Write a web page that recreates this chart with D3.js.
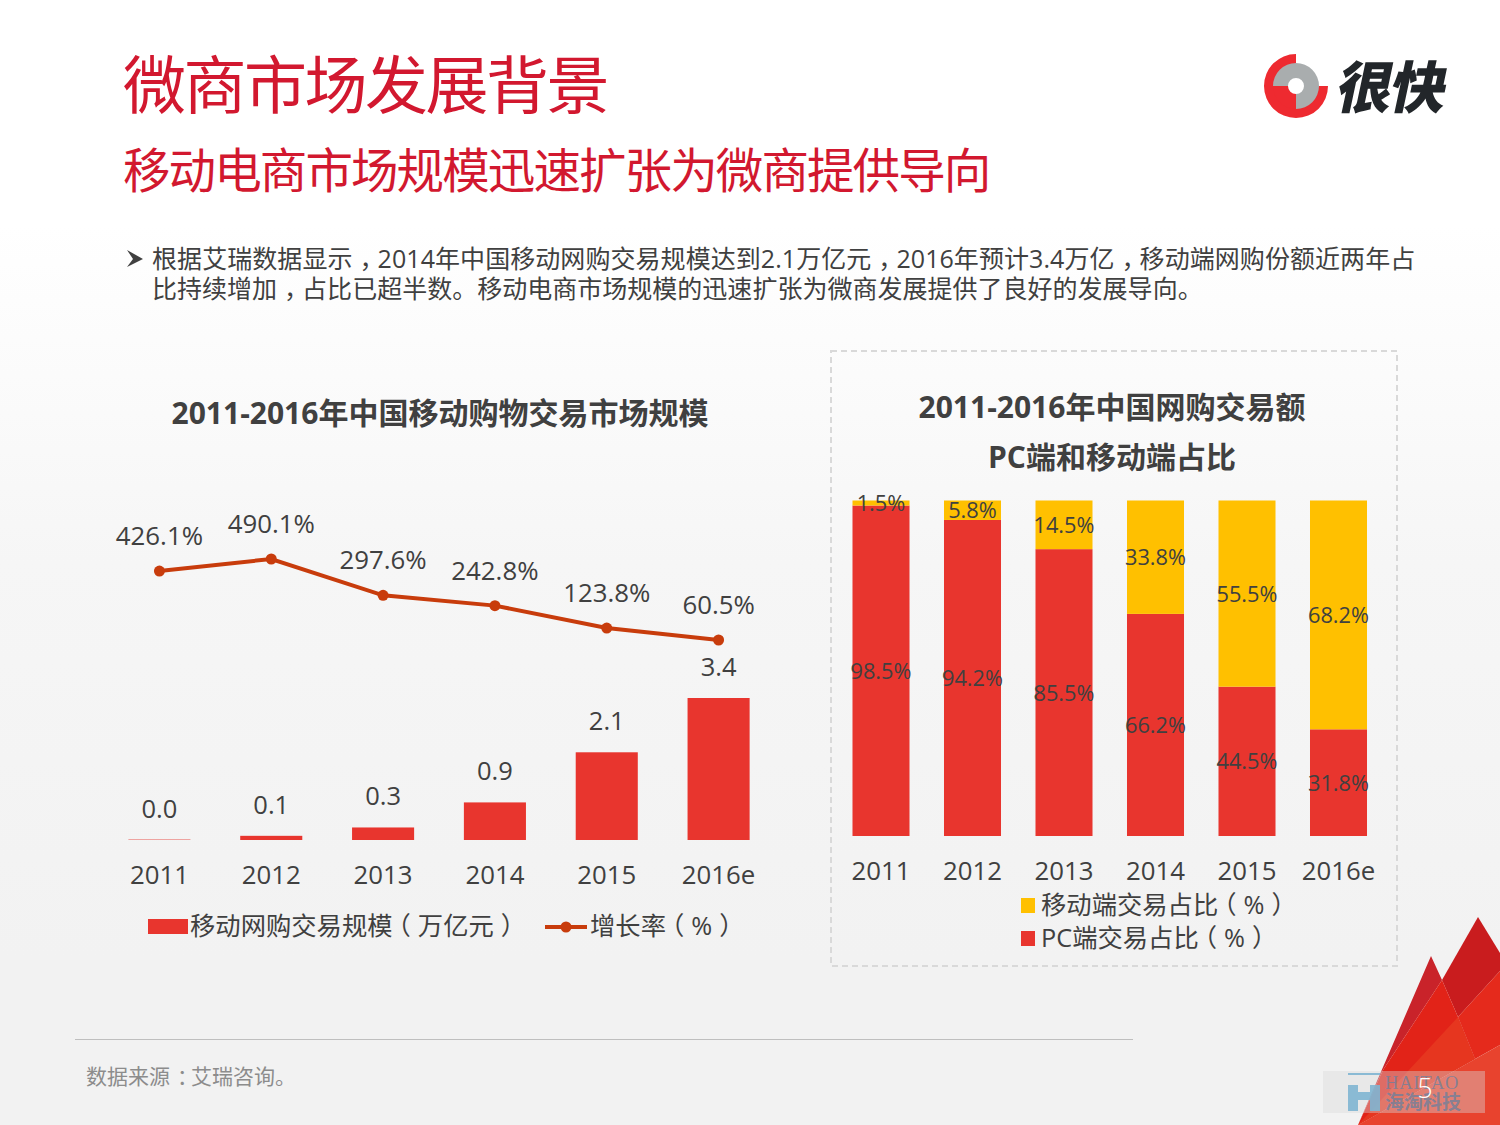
<!DOCTYPE html>
<html>
<head>
<meta charset="utf-8">
<script src="https://d3js.org/d3.v7.min.js"></script>
<style>
  html, body { margin: 0; padding: 0; background: #fff; }
  svg { display: block; }
  text { font-family: "Open Sans", "Noto Sans CJK SC", sans-serif; fill: #404040; }
  .cjk { font-family: "Noto Sans CJK SC", sans-serif; }
</style>
</head>
<body>
<svg id="chart" width="1500" height="1125"></svg>
<script>
// chart values
var years = ['2011', '2012', '2013', '2014', '2015', '2016e'];
var marketSize = [0.01, 0.1, 0.3, 0.9, 2.1, 3.4];
var growthRate = [426.1, 490.1, 297.6, 242.8, 123.8, 60.5];
var pcShare = [98.5, 94.2, 85.5, 66.2, 44.5, 31.8];
var mobileShare = [1.5, 5.8, 14.5, 33.8, 55.5, 68.2];

var titleText = '微商市场发展背景';
var subtitleText = '移动电商市场规模迅速扩张为微商提供导向';
var bodyLines = [
    '根据艾瑞数据显示，2014年中国移动网购交易规模达到2.1万亿元，2016年预计3.4万亿，移动端网购份额近两年占',
    '比持续增加，占比已超半数。移动电商市场规模的迅速扩张为微商发展提供了良好的发展导向。'
];
var sourceText = '数据来源：艾瑞咨询。';

var red = '#e8352e', orange = '#ffc000', lineRed = '#c83c0c';

var svg = d3.select('#chart');
var defs = svg.append('defs');

// the font sets these marks at the side of their cell, the reference has them centred
var punctShift = {'，': 7, '：': 7, '（': -7, '）': 7};

function addText(x, y, str, size) {
    var back = 0;
    var dx = Array.from(str).map(function(ch) {
        var shift = punctShift[ch] || 0;
        var d = shift - back;
        back = shift;
        return d;
    });
    return svg.append('text').attr('x', x).attr('y', y)
        .attr('dx', dx.join(' '))
        .style('font-size', size + 'px')
        .text(str);
}

// page background
var bg = defs.append('linearGradient').attr('id', 'bg')
    .attr('x1', 0).attr('y1', 0).attr('x2', 0).attr('y2', 1);
bg.append('stop').attr('offset', '0.2').attr('stop-color', '#ffffff');
bg.append('stop').attr('offset', '0.5').attr('stop-color', '#f6f6f6');
bg.append('stop').attr('offset', '0.85').attr('stop-color', '#f2f2f2');
svg.append('rect').attr('width', 1500).attr('height', 1125).attr('fill', 'url(#bg)');

// ---------- header ----------
svg.append('text').attr('class', 'cjk').attr('x', 123).attr('y', 108)
    .style('font-size', '63px').style('letter-spacing', '-2.5px').style('fill', '#d2182f')
    .text(titleText);
svg.append('text').attr('class', 'cjk').attr('x', 123).attr('y', 188)
    .style('font-size', '47.5px').style('letter-spacing', '-1.9px').style('fill', '#d2182f')
    .text(subtitleText);

svg.append('path')
    .attr('d', 'M127,250 L143,259 L127,267 L133,259 Z')
    .attr('fill', '#404040');
bodyLines.forEach(function(line, i) {
    addText(152, 267.5 + i * 30, line, 25).style('letter-spacing', i === 0 ? '0.06px' : null);
});

// logo
var logo = svg.append('g').attr('transform', 'translate(1296,86)');
var arc = d3.arc();
logo.append('path').attr('fill', '#ee2a30')
    .attr('d', arc({innerRadius: 22, outerRadius: 32, startAngle: Math.PI / 2, endAngle: 2 * Math.PI}));
logo.append('path').attr('fill', '#ee2a30')
    .attr('d', arc({innerRadius: 8, outerRadius: 23, startAngle: Math.PI, endAngle: 1.5 * Math.PI}));
logo.append('path').attr('fill', '#a9adae')
    .attr('d', arc({innerRadius: 8, outerRadius: 23, startAngle: 0, endAngle: Math.PI}));
logo.append('path').attr('fill', '#a9adae')
    .attr('d', arc({innerRadius: 8, outerRadius: 23, startAngle: 1.5 * Math.PI, endAngle: 2 * Math.PI}));
svg.append('text').attr('class', 'cjk')
    .attr('transform', 'translate(1334,108) skewX(-12)')
    .style('font-size', '56px').style('font-weight', 900).style('letter-spacing', '-2.5px').style('fill', '#22262a')
    .text('很快');

// ---------- left chart ----------
svg.append('text').attr('x', 440).attr('y', 424).attr('text-anchor', 'middle')
    .style('font-size', '30px').style('font-weight', 700)
    .text('2011-2016年中国移动购物交易市场规模');

var x1 = d3.scaleBand().domain(years).range([103.5, 774.5]).paddingInner(0.445).paddingOuter(0.2225);
var ySize = d3.scaleLinear().domain([0, 3.4]).range([840, 698]);
var yRate = d3.scaleLinear().domain([60.5, 490.1]).range([640, 559]);
var xMid = function(i) { return x1(years[i]) + x1.bandwidth() / 2; };

svg.selectAll('.size-bar').data(marketSize).enter().append('rect')
    .attr('class', 'size-bar')
    .attr('x', function(d, i) { return x1(years[i]); })
    .attr('y', function(d) { return ySize(d); })
    .attr('width', x1.bandwidth())
    .attr('height', function(d) { return ySize(0) - ySize(d); })
    .attr('fill', red);

svg.selectAll('.size-label').data(marketSize).enter().append('text')
    .attr('class', 'size-label')
    .attr('x', function(d, i) { return xMid(i); })
    .attr('y', function(d) { return ySize(d) - 22; })
    .attr('text-anchor', 'middle')
    .style('font-size', '25.5px')
    .text(function(d) { return d3.format('.1f')(d); });

var rateLine = d3.line()
    .x(function(d, i) { return xMid(i); })
    .y(function(d) { return yRate(d); });
svg.append('path').datum(growthRate)
    .attr('d', rateLine)
    .attr('fill', 'none').attr('stroke', lineRed).attr('stroke-width', 4);
svg.selectAll('.rate-dot').data(growthRate).enter().append('circle')
    .attr('class', 'rate-dot')
    .attr('cx', function(d, i) { return xMid(i); })
    .attr('cy', function(d) { return yRate(d); })
    .attr('r', 5.5)
    .attr('fill', lineRed);
svg.selectAll('.rate-label').data(growthRate).enter().append('text')
    .attr('class', 'rate-label')
    .attr('x', function(d, i) { return xMid(i); })
    .attr('y', function(d) { return yRate(d) - 26; })
    .attr('text-anchor', 'middle')
    .style('font-size', '25.8px')
    .text(function(d) { return d.toFixed(1) + '%'; });

var axis1 = svg.append('g').attr('transform', 'translate(0,840)')
    .call(d3.axisBottom(x1).tickSize(0).tickPadding(26));
axis1.select('.domain').remove();
axis1.selectAll('text').style('font-size', '25.8px').attr('fill', null);
axis1.attr('font-family', null).attr('font-size', null);

// legend left
svg.append('rect').attr('x', 148).attr('y', 919).attr('width', 40).attr('height', 15).attr('fill', red);
addText(190, 935, '移动网购交易规模（万亿元）', 25.3);
svg.append('line').attr('x1', 545).attr('x2', 587).attr('y1', 927).attr('y2', 927)
    .attr('stroke', lineRed).attr('stroke-width', 4);
svg.append('circle').attr('cx', 566).attr('cy', 927).attr('r', 5.5).attr('fill', lineRed);
addText(590, 935, '增长率（%）', 25.3);

// ---------- right chart ----------
svg.append('rect').attr('x', 831).attr('y', 351).attr('width', 566).attr('height', 615)
    .attr('fill', 'none').attr('stroke', '#d9d9d9').attr('stroke-width', 2).attr('stroke-dasharray', '6 4');

svg.append('text').attr('x', 1112).attr('y', 418).attr('text-anchor', 'middle')
    .style('font-size', '30px').style('font-weight', 700).text('2011-2016年中国网购交易额');
svg.append('text').attr('x', 1112).attr('y', 468).attr('text-anchor', 'middle')
    .style('font-size', '30px').style('font-weight', 700).text('PC端和移动端占比');

var x2 = d3.scaleBand().domain(years).range([835.25, 1384.25]).paddingInner(0.377).paddingOuter(0.1885);
var yShare = d3.scaleLinear().domain([0, 100]).range([836, 500.5]);

var shareRows = years.map(function(y, i) {
    return {year: y, pc: pcShare[i], mobile: mobileShare[i]};
});
var stacked = d3.stack().keys(['pc', 'mobile'])(shareRows);
var shareColor = d3.scaleOrdinal().domain(['pc', 'mobile']).range([red, orange]);

var layers = svg.selectAll('.layer').data(stacked).enter().append('g').attr('class', 'layer');
layers.selectAll('rect').data(function(s) { return s; }).enter().append('rect')
    .attr('x', function(d) { return x2(d.data.year); })
    .attr('y', function(d) { return yShare(d[1]); })
    .attr('width', x2.bandwidth())
    .attr('height', function(d) { return yShare(d[0]) - yShare(d[1]); })
    .attr('fill', function(d, i, nodes) { return shareColor(d3.select(nodes[i].parentNode).datum().key); });
layers.selectAll('text').data(function(s) { return s; }).enter().append('text')
    .attr('x', function(d) { return x2(d.data.year) + x2.bandwidth() / 2; })
    .attr('y', function(d) { return (yShare(d[0]) + yShare(d[1])) / 2 + 8; })
    .attr('text-anchor', 'middle')
    .style('font-size', '21.8px')
    .text(function(d) { return (d[1] - d[0]).toFixed(1) + '%'; });

var axis2 = svg.append('g').attr('transform', 'translate(0,836)')
    .call(d3.axisBottom(x2).tickSize(0).tickPadding(26));
axis2.select('.domain').remove();
axis2.selectAll('text').style('font-size', '25.8px').attr('fill', null);
axis2.attr('font-family', null).attr('font-size', null);

// legend right
svg.append('rect').attr('x', 1021).attr('y', 898).attr('width', 14).attr('height', 15).attr('fill', orange);
addText(1041, 914, '移动端交易占比（%）', 25.3);
svg.append('rect').attr('x', 1021).attr('y', 931).attr('width', 14).attr('height', 15).attr('fill', red);
addText(1041, 947, 'PC端交易占比（%）', 25.3);

// ---------- footer ----------
svg.append('line').attr('x1', 75).attr('x2', 1133).attr('y1', 1039.5).attr('y2', 1039.5)
    .attr('stroke', '#bfbfbf').attr('stroke-width', 1);
addText(86, 1084, sourceText, 21).style('fill', '#8c8c8c');

// corner decoration
var shards = [
    {c: '#c9232a', p: 'M1358,1125 L1431,956 L1442,980 L1383,1070 Z'},
    {c: '#c91c1e', p: 'M1442,980 L1478,917 L1500,953 L1500,971 L1458,1017 Z'},
    {c: '#e22318', p: 'M1358,1125 L1383,1070 L1442,980 L1458,1017 L1475,1059 Z'},
    {c: '#e52a1c', p: 'M1458,1017 L1500,971 L1500,1045 L1475,1059 Z'},
    {c: '#e6361f', p: 'M1358,1125 L1458,1017 L1475,1059 Z'},
    {c: '#e8432e', p: 'M1358,1125 L1500,1045 L1500,1125 Z'}
];
svg.selectAll('.shard').data(shards).enter().append('path')
    .attr('class', 'shard')
    .attr('d', function(d) { return d.p; })
    .attr('fill', function(d) { return d.c; });

// watermark
svg.append('rect').attr('x', 1323).attr('y', 1071).attr('width', 162).attr('height', 42)
    .attr('fill', '#d9d9d9').attr('fill-opacity', 0.4);
svg.append('path').attr('fill', '#7fb5d2').attr('fill-opacity', 0.9)
    .attr('d', 'M1348,1073 H1380 V1075 H1348 Z M1348,1085 H1358 V1092 H1370 V1085 H1380 V1111 H1370 V1100 H1358 V1111 H1348 Z');
svg.append('text').attr('x', 1385).attr('y', 1089)
    .style('font-family', '"Liberation Serif", serif').style('font-size', '18.5px')
    .style('fill', '#6f7f9c').style('fill-opacity', 0.8).style('letter-spacing', '0.8px')
    .text('HAITAO');
svg.append('text').attr('class', 'cjk').attr('x', 1385).attr('y', 1109)
    .style('font-size', '19px').style('font-weight', 700)
    .style('fill', '#6f7f9c').style('fill-opacity', 0.8)
    .text('海淘科技');
svg.append('text').attr('x', 1425).attr('y', 1098).attr('text-anchor', 'middle')
    .style('font-size', '27px').style('font-weight', 300).style('fill', '#ffffff').text('5');
</script>
</body>
</html>
